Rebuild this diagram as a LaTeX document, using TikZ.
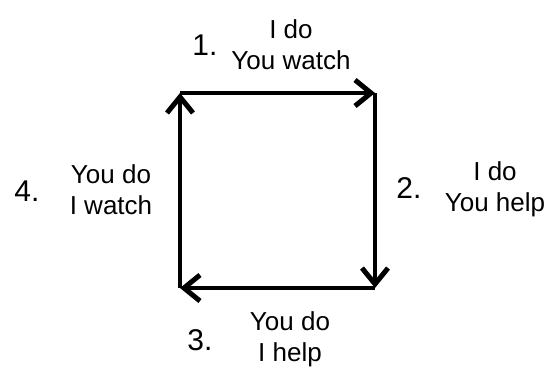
\documentclass[tikz,border=0pt]{standalone}
\usepackage{fontspec}
\setmainfont{Liberation Sans}
\usetikzlibrary{arrows.meta}
\begin{document}
\begin{tikzpicture}[x=1pt,y=-1pt,
  edge/.style={line width=4.5pt,-{Straight Barb[length=16pt,width=26pt,line width=5pt]}},
  lbl/.style={align=center,inner sep=0pt,font=\fontsize{26}{31}\selectfont},
  num/.style={inner sep=0pt,font=\fontsize{30}{30}\selectfont}]
\useasboundingbox (0,0) rectangle (554,369);
\coordinate (tl) at (180,93);
\coordinate (tr) at (375,93);
\coordinate (br) at (375,288);
\coordinate (bl) at (180,288);
\draw[edge] (tl) -- (tr);
\draw[edge] (tr) -- (br);
\draw[edge] (br) -- (bl);
\draw[edge] (bl) -- (tl);
\node[num] (n1) at (205,45) {1.};
\node[lbl] (t1) at (291,45) {I do\\You watch};
\node[num] (n2) at (409,188) {2.};
\node[lbl] (t2) at (495,189) {I do\\You help};
\node[num] (n4) at (27,191) {4.};
\node[lbl] (t4) at (111,190) {You do\\I watch};
\node[num] (n3) at (200,340) {3.};
\node[lbl] (t3) at (290,339) {You do\\I help};
\end{tikzpicture}
\end{document}
